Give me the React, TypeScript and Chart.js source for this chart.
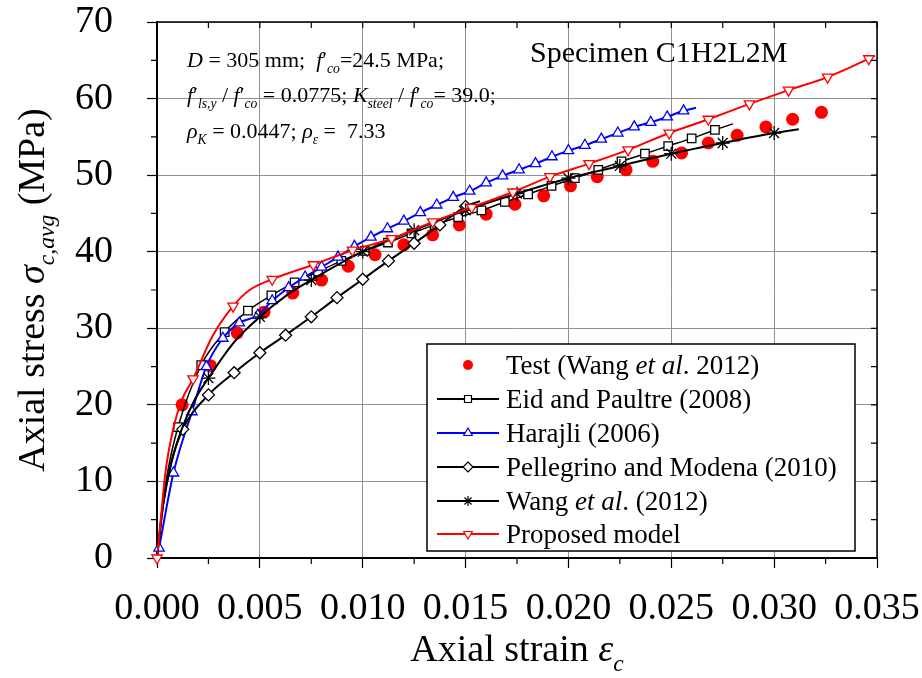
import React, { useEffect, useRef } from "react";
import { Chart, registerables } from "chart.js";

Chart.register(...registerables);

const FONT = "'Liberation Serif', 'Times New Roman', Times, serif";

// ---------- axes ----------
const xTickValues = [0, 0.005, 0.01, 0.015, 0.02, 0.025, 0.03, 0.035];
const yTickValues = [0, 10, 20, 30, 40, 50, 60, 70];
const xMinorValues = [0.0025, 0.0075, 0.0125, 0.0175, 0.0225, 0.0275, 0.0325];
const yMinorValues = [5, 15, 25, 35, 45, 55, 65];

// ---------- Test (Wang et al. 2012) ----------
const testX = [0.00122, 0.0026, 0.0039, 0.0052, 0.0066, 0.008, 0.0093, 0.0106, 0.012, 0.0134, 0.0147, 0.016, 0.0174, 0.0188, 0.0201, 0.0214, 0.0228, 0.0241, 0.0255, 0.0268, 0.0282, 0.0296, 0.0309, 0.0323];
const testY = [20.0, 25.1, 29.4, 32.1, 34.6, 36.3, 38.1, 39.6, 40.9, 42.2, 43.5, 44.9, 46.2, 47.3, 48.6, 49.8, 50.7, 51.8, 52.9, 54.2, 55.2, 56.3, 57.3, 58.2];

// ---------- Eid and Paultre (2008) ----------
const eidX = [0.00102, 0.00215, 0.00329, 0.00442, 0.00556, 0.00669, 0.00783, 0.00896, 0.0101, 0.01123, 0.01237, 0.0135, 0.01464, 0.01577, 0.01691, 0.01804, 0.01918, 0.02031, 0.02145, 0.02258, 0.02372, 0.02485, 0.02599, 0.02712];
const eidY = [17.1, 25.2, 29.5, 32.3, 34.3, 36.0, 37.4, 38.8, 40.1, 41.2, 42.4, 43.5, 44.5, 45.4, 46.5, 47.5, 48.6, 49.6, 50.7, 51.8, 52.8, 53.8, 54.8, 55.9];
const eidCurveX = [0, 0.00025, 0.0005, 0.028];
const eidCurveY = [0, 6.5, 11.0, 56.7];

// ---------- Harajli (2006) ----------
const harX = [0.0001, 0.0008, 0.0017, 0.0024, 0.0032, 0.004, 0.0049, 0.0056, 0.0064, 0.0072, 0.008, 0.0088, 0.0096, 0.0104, 0.0112, 0.012, 0.0128, 0.0136, 0.0144, 0.0152, 0.016, 0.0168, 0.0176, 0.0184, 0.0192, 0.02, 0.0208, 0.0216, 0.0224, 0.0232, 0.024, 0.0248, 0.0256];
const harY = [1.3, 11.1, 19.1, 25.0, 28.7, 30.7, 31.7, 33.6, 35.3, 36.7, 38.0, 39.3, 40.7, 41.9, 43.0, 44.0, 45.1, 46.1, 47.1, 47.9, 49.0, 49.9, 50.7, 51.5, 52.4, 53.2, 53.9, 54.7, 55.5, 56.3, 56.9, 57.6, 58.4];
const harCurveX = [0.0262];
const harCurveY = [58.8];

// ---------- Pellegrino and Modena (2010) ----------
const pelX = [0.00125, 0.0025, 0.00375, 0.005, 0.00625, 0.0075, 0.00875, 0.01, 0.01125, 0.0125, 0.01375, 0.015];
const pelY = [16.8, 21.3, 24.2, 26.8, 29.1, 31.5, 34.0, 36.4, 38.8, 41.1, 43.5, 45.9];
const pelCurveX = [0, 0.0003, 0.0007, 0.0157];
const pelCurveY = [0, 7.0, 12.5, 46.6];

// ---------- Wang et al. (2012) ----------
const wangX = [0.0025, 0.005, 0.0075, 0.01, 0.0125, 0.015, 0.0175, 0.02, 0.0225, 0.025, 0.0275, 0.03];
const wangY = [23.5, 31.5, 36.3, 40.0, 42.8, 45.4, 47.6, 49.6, 51.2, 52.8, 54.2, 55.5];
const wangCurveX = [0, 0.0003, 0.0007, 0.0012, 0.0018, 0.00375, 0.00625, 0.0312];
const wangCurveY = [0, 7.0, 12.5, 16.8, 20.5, 28.2, 34.2, 56.0];

// ---------- Proposed model ----------
const propX = [0, 0.00175, 0.0037, 0.0056, 0.0076, 0.0095, 0.0114, 0.0134, 0.0153, 0.0173, 0.0191, 0.021, 0.0229, 0.0249, 0.0268, 0.0288, 0.0307, 0.0326, 0.0346];
const propY = [0, 23.4, 32.9, 36.4, 38.3, 40.2, 41.7, 43.9, 45.8, 47.8, 49.8, 51.5, 53.3, 55.5, 57.3, 59.3, 61.1, 62.8, 65.2];
const propCurveX = [0.0002, 0.0004, 0.0008, 0.0012, 0.0027, 0.0045, 0.0349];
const propCurveY = [5.5, 11.0, 17.0, 20.6, 29.0, 35.0, 65.6];

// ---------- text ----------
type Seg = { t: string; i?: boolean; sub?: boolean };

const legendRows: Seg[][] = [
  [{ t: "Test (Wang " }, { t: "et al", i: true }, { t: ". 2012)" }],
  [{ t: "Eid and Paultre (2008)" }],
  [{ t: "Harajli (2006)" }],
  [{ t: "Pellegrino and Modena (2010)" }],
  [{ t: "Wang " }, { t: "et al", i: true }, { t: ". (2012)" }],
  [{ t: "Proposed model" }],
];
const legendMarkers = ["dot", "square", "triangle", "diamond", "star", "downTriangle"];
const legendColors = ["#ff0000", "#000000", "#0000ff", "#000000", "#000000", "#ff0000"];

const noteLines: Seg[][] = [
  [{ t: "D", i: true }, { t: " = 305 mm;  " }, { t: "f", i: true }, { t: "′" }, { t: "co", i: true, sub: true }, { t: "=24.5 MPa;" }],
  [{ t: "f", i: true }, { t: "′" }, { t: "ls,y", i: true, sub: true }, { t: " / " }, { t: "f", i: true }, { t: "′" }, { t: "co", i: true, sub: true }, { t: " = 0.0775; " }, { t: "K", i: true }, { t: "steel", i: true, sub: true }, { t: " / " }, { t: "f", i: true }, { t: "′" }, { t: "co", i: true, sub: true }, { t: "= 39.0;" }],
  [{ t: "ρ", i: true }, { t: "K", i: true, sub: true }, { t: " = 0.0447; " }, { t: "ρ", i: true }, { t: "ε", i: true, sub: true }, { t: " =  7.33" }],
];
const specimenLabel = "Specimen C1H2L2M";
const xTitle: Seg[] = [{ t: "Axial strain " }, { t: "ε", i: true }, { t: "c", i: true, sub: true }];
const yTitle: Seg[] = [{ t: "Axial stress " }, { t: "σ", i: true }, { t: "c,avg", i: true, sub: true }, { t: " (MPa)" }];

function pts(xs: number[], ys: number[]) {
  return xs.map((x, k) => ({ x, y: ys[k] }));
}
function curve(mx: number[], my: number[], cx: number[], cy: number[]) {
  return [...pts(mx, my), ...pts(cx, cy)].sort((a, b) => a.x - b.x);
}

function setFont(ctx: CanvasRenderingContext2D, size: number, s: Seg) {
  const fs = s.sub ? size * 0.62 : size;
  ctx.font = `${s.i ? "italic " : ""}${fs}px ${FONT}`;
}
function richWidth(ctx: CanvasRenderingContext2D, segs: Seg[], size: number) {
  let w = 0;
  for (const s of segs) {
    setFont(ctx, size, s);
    w += ctx.measureText(s.t).width;
  }
  return w;
}
function drawRich(ctx: CanvasRenderingContext2D, segs: Seg[], x: number, y: number, size: number) {
  let cx = x;
  ctx.textAlign = "left";
  ctx.textBaseline = "alphabetic";
  for (const s of segs) {
    setFont(ctx, size, s);
    ctx.fillText(s.t, cx, y + (s.sub ? size * 0.27 : 0));
    cx += ctx.measureText(s.t).width;
  }
}

function drawMarker(ctx: CanvasRenderingContext2D, kind: string, x: number, y: number, color: string) {
  ctx.save();
  ctx.strokeStyle = color;
  ctx.fillStyle = "#ffffff";
  ctx.lineWidth = 1.2;
  ctx.beginPath();
  if (kind === "dot") {
    ctx.fillStyle = color;
    ctx.arc(x, y, 5, 0, Math.PI * 2);
    ctx.fill();
  } else if (kind === "square") {
    ctx.rect(x - 3.5, y - 3.5, 7, 7);
    ctx.fill();
    ctx.stroke();
  } else if (kind === "triangle") {
    ctx.moveTo(x, y - 5);
    ctx.lineTo(x + 4.3, y + 2.5);
    ctx.lineTo(x - 4.3, y + 2.5);
    ctx.closePath();
    ctx.fill();
    ctx.stroke();
  } else if (kind === "downTriangle") {
    ctx.moveTo(x, y + 5);
    ctx.lineTo(x + 4.3, y - 2.5);
    ctx.lineTo(x - 4.3, y - 2.5);
    ctx.closePath();
    ctx.fill();
    ctx.stroke();
  } else if (kind === "diamond") {
    ctx.moveTo(x, y - 5);
    ctx.lineTo(x + 5, y);
    ctx.lineTo(x, y + 5);
    ctx.lineTo(x - 5, y);
    ctx.closePath();
    ctx.fill();
    ctx.stroke();
  } else if (kind === "star") {
    const r = 5;
    for (let a = 0; a < 4; a++) {
      const ang = (a * Math.PI) / 4;
      ctx.moveTo(x - r * Math.cos(ang), y - r * Math.sin(ang));
      ctx.lineTo(x + r * Math.cos(ang), y + r * Math.sin(ang));
    }
    ctx.stroke();
  }
  ctx.restore();
}

const overlayPlugin = {
  id: "overlay",
  afterDraw(chart: any) {
    const ctx: CanvasRenderingContext2D = chart.ctx;
    const ca = chart.chartArea;
    const xs = chart.scales.x;
    const ys = chart.scales.y;
    ctx.save();
    // frame top & right
    ctx.strokeStyle = "#000";
    ctx.lineWidth = 1.5;
    ctx.beginPath();
    ctx.moveTo(ca.left, ca.top);
    ctx.lineTo(ca.right, ca.top);
    ctx.lineTo(ca.right, ca.bottom);
    ctx.stroke();
    // minor ticks (outward) and inner ticks on top/right
    ctx.lineWidth = 1.2;
    ctx.beginPath();
    for (const v of xMinorValues) {
      const px = xs.getPixelForValue(v);
      ctx.moveTo(px, ca.bottom);
      ctx.lineTo(px, ca.bottom + 6);
    }
    for (const v of [...xMinorValues, ...xTickValues]) {
      const px = xs.getPixelForValue(v);
      ctx.moveTo(px, ca.top);
      ctx.lineTo(px, ca.top + 6);
    }
    for (const v of yMinorValues) {
      const py = ys.getPixelForValue(v);
      ctx.moveTo(ca.left - 6, py);
      ctx.lineTo(ca.left, py);
    }
    for (const v of [...yMinorValues, ...yTickValues]) {
      const py = ys.getPixelForValue(v);
      ctx.moveTo(ca.right - 6, py);
      ctx.lineTo(ca.right, py);
    }
    ctx.stroke();

    ctx.fillStyle = "#000";
    // notes
    const noteY = [67, 102, 138];
    noteLines.forEach((line, k) => drawRich(ctx, line, 187, noteY[k], 22));
    // specimen
    ctx.font = `30px ${FONT}`;
    ctx.textAlign = "left";
    ctx.textBaseline = "alphabetic";
    ctx.fillText(specimenLabel, 530, 62);

    // legend
    const lx = 427, ly = 344, lw = 428, lh = 207;
    ctx.fillStyle = "#fff";
    ctx.fillRect(lx, ly, lw, lh);
    ctx.strokeStyle = "#000";
    ctx.lineWidth = 1.5;
    ctx.strokeRect(lx, ly, lw, lh);
    const rowY = [365, 399, 433, 467, 501, 534];
    legendRows.forEach((segs, k) => {
      const y = rowY[k];
      if (legendMarkers[k] !== "dot") {
        ctx.strokeStyle = legendColors[k];
        ctx.lineWidth = 2;
        ctx.beginPath();
        ctx.moveTo(437, y);
        ctx.lineTo(499, y);
        ctx.stroke();
      }
      drawMarker(ctx, legendMarkers[k], 468, y, legendColors[k]);
      ctx.fillStyle = "#000";
      drawRich(ctx, segs, 506, y + 9, 27);
    });

    // axis titles
    ctx.fillStyle = "#000";
    const tw = richWidth(ctx, xTitle, 38);
    drawRich(ctx, xTitle, (ca.left + ca.right) / 2 - tw / 2, 661, 38);
    ctx.save();
    ctx.translate(44, (ca.top + ca.bottom) / 2);
    ctx.rotate(-Math.PI / 2);
    const yw = richWidth(ctx, yTitle, 38);
    drawRich(ctx, yTitle, -yw / 2, 0, 38);
    ctx.restore();
    ctx.restore();
  },
};

function lineDs(data: any[], color: string, width: number) {
  return {
    type: "line" as const,
    data,
    borderColor: color,
    borderWidth: width,
    pointRadius: 0,
    fill: false,
    cubicInterpolationMode: "monotone" as const,
  };
}
function markerDs(data: any[], color: string, style: string, radius: number, rotation = 0) {
  return {
    type: "line" as const,
    data,
    showLine: false,
    borderColor: color,
    backgroundColor: "#ffffff",
    pointStyle: style,
    pointRadius: radius,
    pointRotation: rotation,
    pointBorderWidth: 1.3,
    pointBorderColor: color,
    pointBackgroundColor: "#ffffff",
    clip: false,
  };
}

function zeroPadding(s: any) {
  s.paddingTop = 0;
  s.paddingBottom = 0;
  s.paddingLeft = 0;
  s.paddingRight = 0;
}

export default function App() {
  const ref = useRef<HTMLCanvasElement | null>(null);
  useEffect(() => {
    if (!ref.current) return;
    const datasets: any[] = [
      markerDs(pts(propX, propY), "#ff0000", "triangle", 6, 180),
      lineDs(curve(propX, propY, propCurveX, propCurveY), "#ff0000", 2),
      markerDs(pts(wangX, wangY), "#000000", "star", 7),
      lineDs(curve(wangX, wangY, wangCurveX, wangCurveY), "#000000", 2),
      markerDs(pts(pelX, pelY), "#000000", "rectRot", 6),
      lineDs(curve(pelX, pelY, pelCurveX, pelCurveY), "#000000", 2),
      markerDs(pts(harX, harY), "#0000ff", "triangle", 6),
      lineDs(curve(harX, harY, harCurveX, harCurveY), "#0000ff", 2),
      markerDs(pts(eidX, eidY), "#000000", "rect", 6),
      lineDs(curve(eidX, eidY, eidCurveX, eidCurveY), "#000000", 1.5),
      {
        type: "line",
        data: pts(testX, testY),
        showLine: false,
        pointStyle: "circle",
        pointRadius: 6.5,
        pointBackgroundColor: "#ff0000",
        pointBorderColor: "#ff0000",
        pointBorderWidth: 0,
        clip: false,
      },
    ];
    const chart = new Chart(ref.current, {
      type: "line",
      data: { datasets },
      options: {
        responsive: false,
        animation: false,
        events: [],
        layout: { padding: { top: 22, right: 45, left: 0, bottom: 0 } },
        plugins: { legend: { display: false }, tooltip: { enabled: false }, title: { display: false } },
        scales: {
          x: {
            type: "linear",
            min: 0,
            max: 0.035,
            afterBuildTicks: (s: any) => {
              s.ticks = xTickValues.map((v) => ({ value: v }));
            },
            afterFit: (s: any) => {
              s.height = 120;
              zeroPadding(s);
            },
            ticks: {
              font: { family: FONT, size: 38 },
              color: "#000",
              padding: 18,
              maxRotation: 0,
              autoSkip: false,
              callback: (v: any) => Number(v).toFixed(3),
            },
            grid: { color: "#909090", lineWidth: 1, tickLength: 10, tickColor: "#000", tickWidth: 1.2 },
            border: { color: "#000", width: 2 },
          },
          y: {
            type: "linear",
            min: 0,
            max: 70,
            afterBuildTicks: (s: any) => {
              s.ticks = yTickValues.map((v) => ({ value: v }));
            },
            afterFit: (s: any) => {
              s.width = 157;
              zeroPadding(s);
            },
            ticks: {
              font: { family: FONT, size: 38 },
              color: "#000",
              padding: 34,
              autoSkip: false,
              callback: (v: any) => String(v),
            },
            grid: { color: "#909090", lineWidth: 1, tickLength: 10, tickColor: "#000", tickWidth: 1.2 },
            border: { color: "#000", width: 2 },
          },
        },
      },
      plugins: [overlayPlugin],
    } as any);
    return () => chart.destroy();
  }, []);
  return (
    <div style={{ position: "fixed", left: 0, top: 0, width: 922, height: 678, background: "#fff" }}>
      <canvas ref={ref} width={922} height={678} style={{ display: "block", width: 922, height: 678 }} />
    </div>
  );
}
